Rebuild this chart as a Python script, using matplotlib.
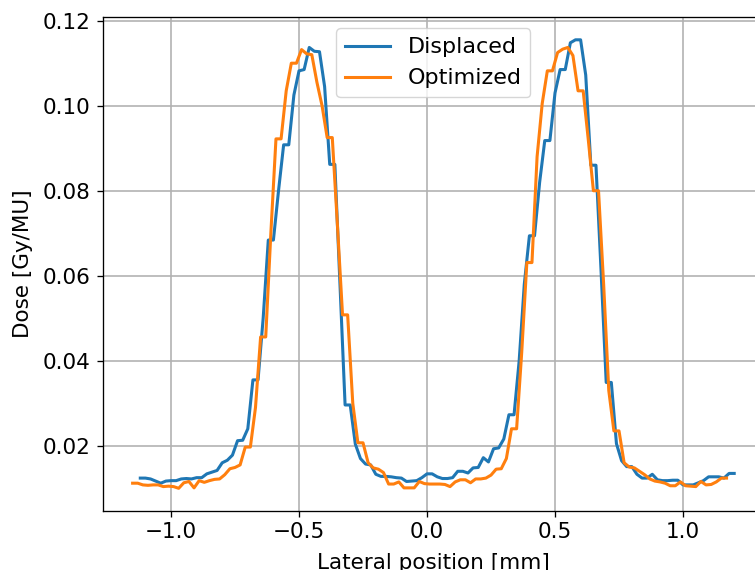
import matplotlib

matplotlib.use("Agg")
import matplotlib.pyplot as plt
import numpy as np

# sampling grid of the two lateral profiles (mm)
displaced_start = -1.12
optimized_start = -1.15
step = 0.02

displaced_dose = [
    0.0124, 0.0124, 0.0122, 0.0117, 0.0112, 0.0117, 0.0118, 0.0118, 0.0122, 0.0123,
    0.0122, 0.0125, 0.0125, 0.0134, 0.0138, 0.0142, 0.0160, 0.0166, 0.0178, 0.0212,
    0.0213, 0.0240, 0.0355, 0.0355, 0.0500, 0.0684, 0.0684, 0.0800, 0.0908, 0.0908,
    0.1025, 0.1082, 0.1085, 0.1137, 0.1128, 0.1127, 0.1045, 0.0862, 0.0862, 0.0580,
    0.0296, 0.0296, 0.0204, 0.0170, 0.0157, 0.0155, 0.0133, 0.0128, 0.0128, 0.0127,
    0.0125, 0.0124, 0.0116, 0.0117, 0.0118, 0.0125, 0.0134, 0.0134, 0.0127, 0.0123,
    0.0123, 0.0125, 0.0140, 0.0140, 0.0136, 0.0148, 0.0149, 0.0172, 0.0162, 0.0193,
    0.0195, 0.0216, 0.0273, 0.0273, 0.0400, 0.0580, 0.0694, 0.0694, 0.0820, 0.0918,
    0.0918, 0.1030, 0.1085, 0.1085, 0.1148, 0.1155, 0.1155, 0.1072, 0.0860, 0.0860,
    0.0610, 0.0349, 0.0349, 0.0205, 0.0165, 0.0151, 0.0151, 0.0133, 0.0124, 0.0124,
    0.0133, 0.0120, 0.0118, 0.0118, 0.0119, 0.0119, 0.0108, 0.0108, 0.0108, 0.0113,
    0.0118, 0.0127, 0.0127, 0.0127, 0.0124, 0.0135, 0.0135,
]

optimized_dose = [
    0.0112, 0.0112, 0.0108, 0.0107, 0.0108, 0.0108, 0.0104, 0.0105, 0.0104, 0.0100,
    0.0113, 0.0116, 0.0101, 0.0118, 0.0114, 0.0118, 0.0121, 0.0122, 0.0132, 0.0146,
    0.0149, 0.0155, 0.0197, 0.0197, 0.0290, 0.0456, 0.0456, 0.0700, 0.0922, 0.0922,
    0.1035, 0.1100, 0.1100, 0.1132, 0.1122, 0.1120, 0.1055, 0.1000, 0.0925, 0.0925,
    0.0720, 0.0508, 0.0508, 0.0300, 0.0207, 0.0207, 0.0160, 0.0148, 0.0145, 0.0137,
    0.0110, 0.0110, 0.0115, 0.0101, 0.0101, 0.0101, 0.0116, 0.0111, 0.0110, 0.0110,
    0.0110, 0.0109, 0.0104, 0.0115, 0.0120, 0.0120, 0.0113, 0.0122, 0.0122, 0.0124,
    0.0131, 0.0145, 0.0146, 0.0170, 0.0240, 0.0240, 0.0420, 0.0631, 0.0631, 0.0880,
    0.1005, 0.1082, 0.1082, 0.1125, 0.1133, 0.1137, 0.1118, 0.1035, 0.1035, 0.0920,
    0.0800, 0.0800, 0.0580, 0.0330, 0.0235, 0.0235, 0.0160, 0.0150, 0.0148, 0.0140,
    0.0132, 0.0122, 0.0117, 0.0115, 0.0112, 0.0106, 0.0106, 0.0115, 0.0106, 0.0105,
    0.0104, 0.0116, 0.0108, 0.0109, 0.0115, 0.0124, 0.0124,
]

displaced_x = displaced_start + step * np.arange(len(displaced_dose))
optimized_x = optimized_start + step * np.arange(len(optimized_dose))

font_size = 15.5
plt.rcParams.update(
    {
        "font.size": font_size,
        "axes.linewidth": 0.95,
        "xtick.major.width": 0.95,
        "ytick.major.width": 0.95,
        "xtick.major.size": 4.2,
        "ytick.major.size": 4.2,
        "xtick.major.pad": 4.2,
        "ytick.major.pad": 4.2,
    }
)

fig = plt.figure(figsize=(7.55, 5.70), dpi=100)
# axes run slightly past the right edge of the figure, like the cropped original
ax = fig.add_axes([0.1358, 0.104, 0.8765, 0.8655])

linewidth = 2.2
ax.plot(displaced_x, displaced_dose, color="#1f77b4", linewidth=linewidth, label="Displaced")
ax.plot(optimized_x, optimized_dose, color="#ff7f0e", linewidth=linewidth, label="Optimized")

ax.grid(True, color="#b0b0b0", linewidth=1.15)
ax.set_axisbelow(True)
ax.set_yticks([0.02, 0.04, 0.06, 0.08, 0.10, 0.12])
ax.set_xticks([-1.0, -0.5, 0.0, 0.5, 1.0])
ax.set_xlabel("Lateral position [mm]", labelpad=8)
ax.set_ylabel("Dose [Gy/MU]", labelpad=7)
ax.legend(loc="upper center", fontsize=16)

fig.savefig("out.png", dpi=100)
plt.close(fig)
